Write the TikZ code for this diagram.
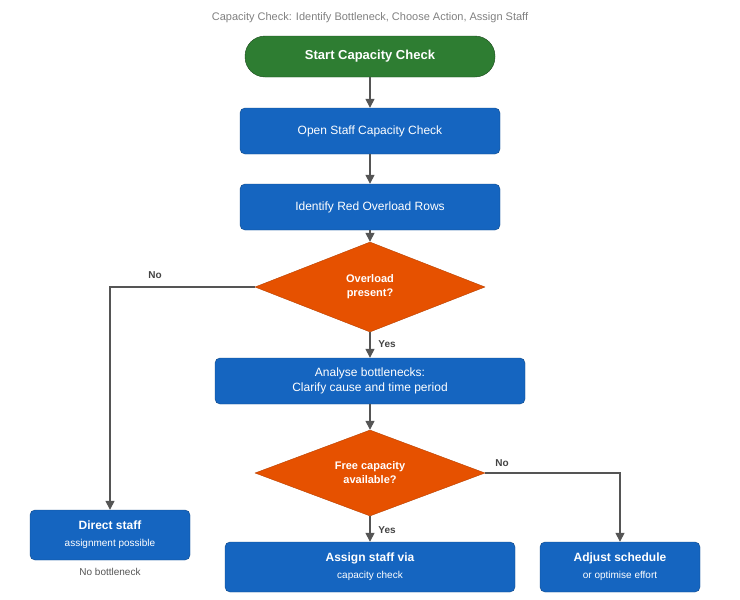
\documentclass[tikz,border=0pt]{standalone}
\usepackage{fontspec}
\setmainfont{Liberation Sans}
\usetikzlibrary{shapes.geometric,arrows.meta}
\definecolor{flowblue}{HTML}{1565C0}
\definecolor{flowgreen}{HTML}{2E7D32}
\definecolor{floworange}{HTML}{E65100}
\definecolor{flowline}{HTML}{555555}
\tikzset{
  task/.style={draw=flowblue!70!black, fill=flowblue, rounded corners=5pt, text=white,
               font=\fontsize{12}{15}\selectfont, align=center, inner sep=0pt},
  start/.style={draw=flowgreen!60!black, fill=flowgreen, rounded corners=20pt, text=white,
                font=\fontsize{13}{15}\selectfont\bfseries, inner sep=0pt,
                minimum width=250pt, minimum height=41pt},
  check/.style={diamond, draw=floworange!80!black, fill=floworange, text=white, aspect=2.55,
                font=\fontsize{11}{14}\selectfont\bfseries, align=center, inner sep=0pt,
                minimum width=230pt, minimum height=90pt},
  flow/.style={draw=flowline, line width=1.4pt, -{Triangle[length=9pt,width=9pt]}},
  answer/.style={font=\fontsize{10}{12}\selectfont\bfseries, text=flowline!80!black}
}
\begin{document}
\begin{tikzpicture}[x=1pt,y=-1pt]
\useasboundingbox (0,0) rectangle (740,600);
\node[text=gray, font=\fontsize{11}{13}\selectfont] (title) at (370,18)
  {Capacity Check: Identify Bottleneck, Choose Action, Assign Staff};
\node[start] (begin) at (370,56.5) {Start Capacity Check};
\node[task, minimum width=260pt, minimum height=46pt] (open) at (370,131) {Open Staff Capacity Check};
\node[task, minimum width=260pt, minimum height=46pt] (rows) at (370,207) {Identify Red Overload Rows};
\node[check] (overload) at (370,287) {Overload\\present?};
\node[task, minimum width=310pt, minimum height=46pt] (analyse) at (370,381)
  {Analyse bottlenecks:\\Clarify cause and time period};
\node[check, minimum height=86pt] (free) at (370,473) {Free capacity\\available?};
\node[task, minimum width=160pt, minimum height=50pt] (direct) at (110,535)
  {\textbf{Direct staff}\\[2pt]{\fontsize{10}{12}\selectfont assignment possible}};
\node[font=\fontsize{10}{12}\selectfont, text=flowline] (nobottle) at (110,572) {No bottleneck};
\node[task, minimum width=290pt, minimum height=50pt] (assign) at (370,567)
  {\textbf{Assign staff via}\\[2pt]{\fontsize{10}{12}\selectfont capacity check}};
\node[task, minimum width=160pt, minimum height=50pt] (adjust) at (620,567)
  {\textbf{Adjust schedule}\\[2pt]{\fontsize{10}{12}\selectfont or optimise effort}};
% connectors
\draw[flow] (begin) -- (open);
\draw[flow] (open) -- (rows);
\draw[flow] (rows) -- (overload);
\draw[flow] (overload) -- (analyse);
\draw[flow] (analyse) -- (free);
\draw[flow] (free) -- (assign);
\draw[flow] (overload.west) -| (direct.north);
\draw[flow] (free.east) -| (adjust.north);
\node[answer] (no1) at (155,275) {No};
\node[answer] (yes1) at (387,344) {Yes};
\node[answer] (no2) at (502,463) {No};
\node[answer] (yes2) at (387,530) {Yes};
\end{tikzpicture}
\end{document}
